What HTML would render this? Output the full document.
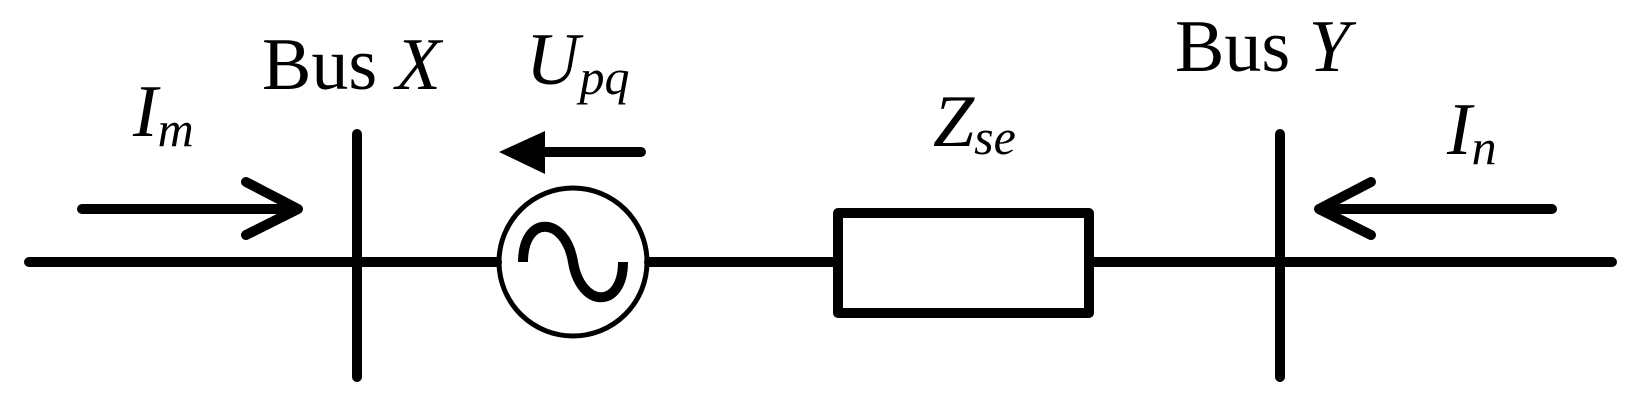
<!DOCTYPE html>
<html><head><style>
html,body{margin:0;padding:0;background:#fff;}
svg{display:block;}
text{font-family:"Liberation Serif",serif;fill:#000;}
</style></head><body>
<svg width="1637" height="407" viewBox="0 0 1637 407" xmlns="http://www.w3.org/2000/svg">
<g stroke="#000" stroke-width="10" stroke-linecap="round" fill="none">
  <line x1="29" y1="262" x2="497" y2="262"/>
  <line x1="649" y1="262" x2="838" y2="262"/>
  <line x1="1089" y1="262" x2="1612" y2="262"/>
  <line x1="357" y1="134" x2="357" y2="377"/>
  <line x1="1280" y1="134" x2="1280" y2="377"/>
  <line x1="82" y1="209" x2="296" y2="209"/>
  <polyline points="246,182 298,209 246,235" stroke-linejoin="round"/>
  <line x1="1552" y1="209" x2="1321" y2="209"/>
  <polyline points="1371,182 1319,209 1371,235" stroke-linejoin="round"/>
  <line x1="641" y1="152" x2="540" y2="152"/>
  <rect x="838" y="213" width="251" height="100" stroke-linecap="butt" stroke-linejoin="round"/>
  <path d="M523,262 C523,215 565,215 573,262 C581,309 623,309 623,262" stroke-linecap="butt"/>
</g>
<circle cx="573" cy="262" r="74" stroke="#000" stroke-width="5" fill="none"/>
<polygon points="499,152 545,131 545,174" fill="#000"/>
<text x="262" y="89" font-size="74">Bus <tspan font-style="italic">X</tspan></text>
<text x="1175" y="71" font-size="74">Bus <tspan font-style="italic">Y</tspan></text>
<text x="526" y="84" font-size="74" font-style="italic">U<tspan font-size="50" dy="10">pq</tspan></text>
<text x="133" y="136" font-size="74" font-style="italic">I<tspan font-size="50" dy="10">m</tspan></text>
<text x="933" y="146" font-size="74" font-style="italic">Z<tspan font-size="50" dy="8">se</tspan></text>
<text x="1447" y="154" font-size="74" font-style="italic">I<tspan font-size="50" dy="10">n</tspan></text>
</svg>
</body></html>
